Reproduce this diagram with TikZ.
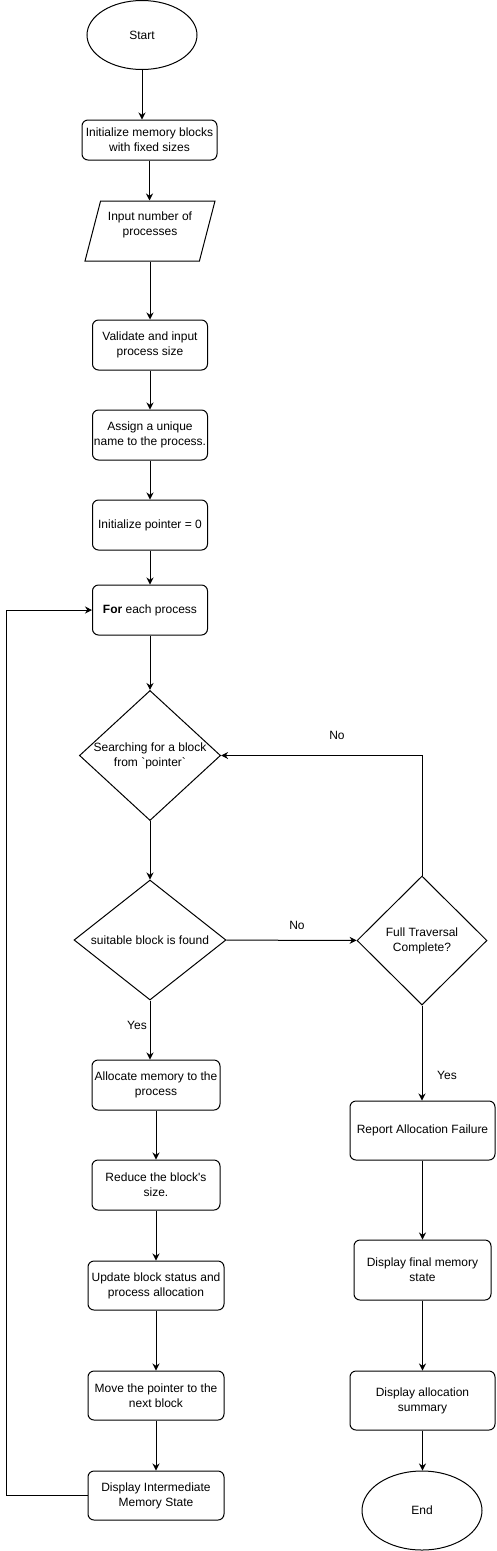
\documentclass[tikz,border=0pt]{standalone}
\usepackage{fontspec}
\setmainfont{Liberation Sans}
\usetikzlibrary{shapes.geometric, arrows.meta}

\begin{document}
\begin{tikzpicture}[x=1pt, y=-1pt, line width=1pt, font=\fontsize{12}{15}\selectfont,
  every node/.style={draw, align=center, inner sep=1pt},
  stepbox/.style={rectangle, rounded corners=6pt},
  terminal/.style={ellipse},
  decision/.style={diamond, inner sep=0pt},
  lbl/.style={draw=none},
  arr/.style={-{Stealth[length=7pt, width=7pt]}}]
  \useasboundingbox (0,0) rectangle (496,1551);
  % main column
  \node[terminal, minimum width=110pt, minimum height=69pt] (start) at (142,35) {Start};
  \node[stepbox, minimum width=135pt, minimum height=40pt] (initmem) at (149.5,140) {Initialize memory blocks\\with fixed sizes};
  \node[trapezium, trapezium left angle=71.57, trapezium right angle=108.43, trapezium stretches=true, minimum width=130pt, minimum height=60pt] (input) at (150,231) {Input number of\\processes\\\mbox{}};
  \node[stepbox, minimum width=115pt, minimum height=50pt] (validate) at (150,345) {Validate and input\\process size};
  \node[stepbox, minimum width=115pt, minimum height=50pt] (assign) at (150,435) {Assign a unique\\name to the process.};
  \node[stepbox, minimum width=115pt, minimum height=50pt] (ptr) at (150,525) {Initialize pointer = 0};
  \node[stepbox, minimum width=115pt, minimum height=50pt] (foreach) at (150,610) {\textbf{For} each process};
  \node[decision, aspect=1.085, minimum width=140pt, minimum height=129pt] (search) at (150,755.5) {Searching for a block\\from \textasciigrave pointer\textasciigrave};
  \node[decision, aspect=1.27, minimum width=152pt, minimum height=120pt] (found) at (150,940) {suitable block is found};
  \node[stepbox, minimum width=128pt, minimum height=50pt] (alloc) at (156,1085) {Allocate memory to the\\process};
  \node[stepbox, minimum width=128pt, minimum height=50pt] (reduce) at (156,1185) {Reduce the block\textquotesingle s\\size.};
  \node[stepbox, minimum width=136pt, minimum height=49pt] (update) at (156,1285.5) {Update block status and\\process allocation};
  \node[stepbox, minimum width=136pt, minimum height=49pt] (move) at (156,1395.5) {Move the pointer to the\\next block};
  \node[stepbox, minimum width=136pt, minimum height=49pt] (disp) at (156,1495.5) {Display Intermediate\\Memory State};
  % failure column
  \node[decision, minimum width=130pt, minimum height=129pt] (full) at (422,940.5) {Full Traversal\\Complete?};
  \node[stepbox, minimum width=145pt, minimum height=59pt] (report) at (422.5,1130.5) {Report Allocation Failure};
  \node[stepbox, minimum width=137pt, minimum height=60pt] (final) at (422.5,1270) {Display final memory\\state};
  \node[stepbox, minimum width=145pt, minimum height=59pt] (summary) at (422.5,1400.5) {Display allocation\\summary};
  \node[terminal, minimum width=120pt, minimum height=79pt] (end) at (422,1510.5) {End};
  % straight links
  \foreach \a/\b in {start/initmem, initmem/input, input/validate, validate/assign, assign/ptr, ptr/foreach, foreach/search, search/found, found/alloc, alloc/reduce, reduce/update, update/move, move/disp, full/report, report/final, final/summary, summary/end}
    \draw[arr] (\a.south) -- (\a.south |- \b.north);
  \draw[arr] (found) -- (full);
  \draw[arr] (full.north) |- (search.east);
  \draw[arr] (disp.west) -- ++(-81,0) |- (foreach.west);
  % labels
  \node[lbl] (no1) at (297,925) {No};
  \node[lbl] (no2) at (337,735) {No};
  \node[lbl] (yes1) at (137,1025) {Yes};
  \node[lbl] (yes2) at (447,1075) {Yes};
\end{tikzpicture}
\end{document}
